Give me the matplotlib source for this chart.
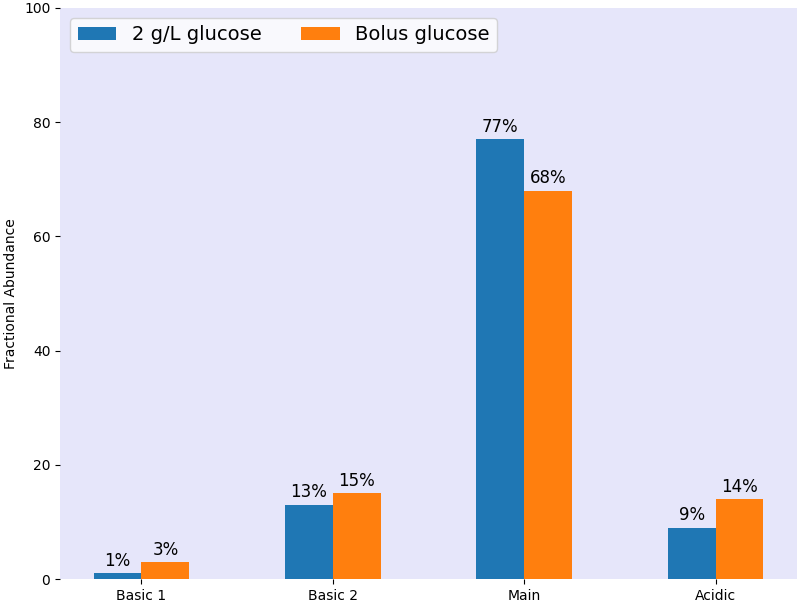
import matplotlib.pyplot as plt
import numpy as np

categories = ["Basic 1", "Basic 2", "Main", "Acidic"]
glucose_2gL = [1, 13, 77, 9]
bolus_glucose = [3, 15, 68, 14]

x = np.arange(len(categories))
w = 0.25

fig = plt.figure(figsize=(8.01, 6.07), dpi=100)
ax = fig.add_axes([0.075, 0.046, 0.92, 0.941])
ax.set_facecolor("#e6e6fa")

b1 = ax.bar(x - w / 2, glucose_2gL, w, color="#1f77b4", label="2 g/L glucose")
b2 = ax.bar(x + w / 2, bolus_glucose, w, color="#ff7f0e", label="Bolus glucose")

for bars, vals in [(b1, glucose_2gL), (b2, bolus_glucose)]:
    for bar, v in zip(bars, vals):
        ax.text(bar.get_x() + bar.get_width() / 2, v + 0.6, f"{v}%",
                ha="center", va="bottom", fontsize=12)

ax.set_xticks(x)
ax.set_xticklabels(categories)
ax.set_ylim(0, 100)
ax.set_ylabel("Fractional Abundance")
for s in ax.spines.values():
    s.set_visible(False)

ax.legend(loc="upper left", ncol=2, fontsize=14)

fig.savefig("out.png")
